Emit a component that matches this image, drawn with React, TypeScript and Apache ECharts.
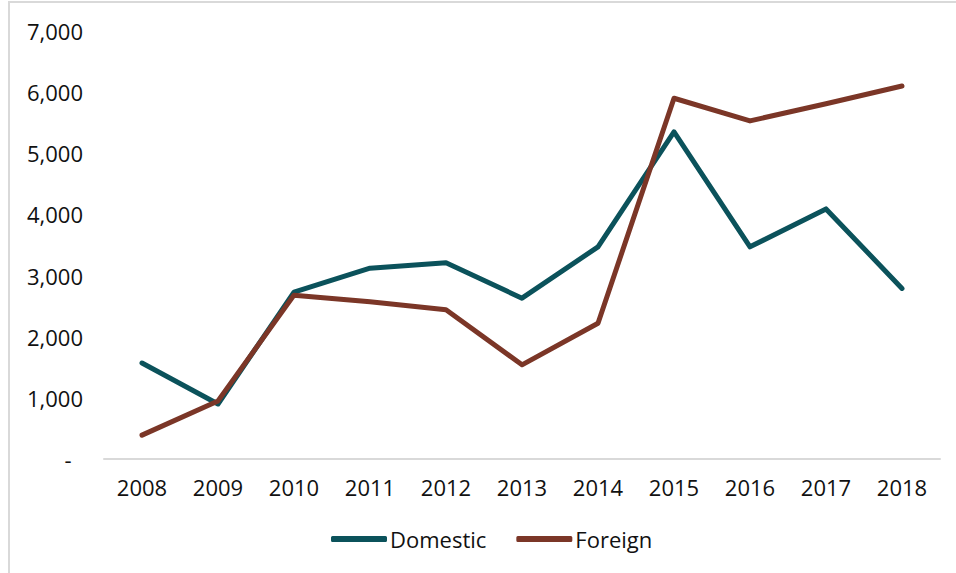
import React, { useEffect, useRef } from "react";
import * as echarts from "echarts";

const years = ["2008", "2009", "2010", "2011", "2012", "2013", "2014", "2015", "2016", "2017", "2018"];
const domestic = [1570, 900, 2730, 3120, 3210, 2630, 3470, 5350, 3470, 4090, 2790];
const foreign = [390, 950, 2680, 2570, 2440, 1540, 2220, 5900, 5530, 5810, 6100];
const seriesNames = ["Domestic", "Foreign"];
const colors = ["#0b525b", "#7b3627"];

const FONT = "'Open Sans', 'Noto Sans', sans-serif";

export default function App() {
  const ref = useRef<HTMLDivElement>(null);
  useEffect(() => {
    const chart = echarts.init(ref.current!, null, { renderer: "svg" });
    chart.setOption({
      animation: false,
      textStyle: { fontFamily: FONT },
      graphic: [
        {
          type: "rect",
          shape: { x: 9, y: 2, width: 1000, height: 600 },
          style: { fill: "none", stroke: "#d9d9d9", lineWidth: 2 },
          silent: true,
        },
      ],
      grid: { left: 104, right: 16, top: 31, bottom: 114 },
      legend: {
        bottom: 18,
        left: 326,
        data: seriesNames,
        icon: "roundRect",
        itemWidth: 56,
        itemHeight: 6,
        itemGap: 30,
        textStyle: { fontSize: 22, color: "#111", fontFamily: FONT, padding: [0, 0, 0, -2] },
      },
      xAxis: {
        type: "category",
        data: years,
        boundaryGap: true,
        axisLine: { lineStyle: { color: "#d9d9d9", width: 2 } },
        axisTick: { show: false },
        axisLabel: { fontSize: 22, color: "#111", margin: 17, fontFamily: FONT },
      },
      yAxis: {
        type: "value",
        min: 0,
        max: 7000,
        interval: 1000,
        splitLine: { show: false },
        axisLine: { show: false },
        axisTick: { show: false },
        axisLabel: {
          fontSize: 22,
          color: "#111",
          margin: 21,
          fontFamily: FONT,
          formatter: (v: number) => (v === 0 ? "-  " : v.toLocaleString("en-US")),
        },
      },
      series: [
        {
          name: seriesNames[0],
          type: "line",
          data: domestic,
          symbol: "none",
          color: colors[0],
          lineStyle: { width: 5, color: colors[0], cap: "round", join: "round" },
        },
        {
          name: seriesNames[1],
          type: "line",
          data: foreign,
          symbol: "none",
          color: colors[1],
          lineStyle: { width: 5, color: colors[1], cap: "round", join: "round" },
        },
      ],
    });
    return () => chart.dispose();
  }, []);
  return (
    <div
      ref={ref}
      style={{ position: "fixed", left: 0, top: 0, width: 956, height: 573, background: "#fff" }}
    />
  );
}
